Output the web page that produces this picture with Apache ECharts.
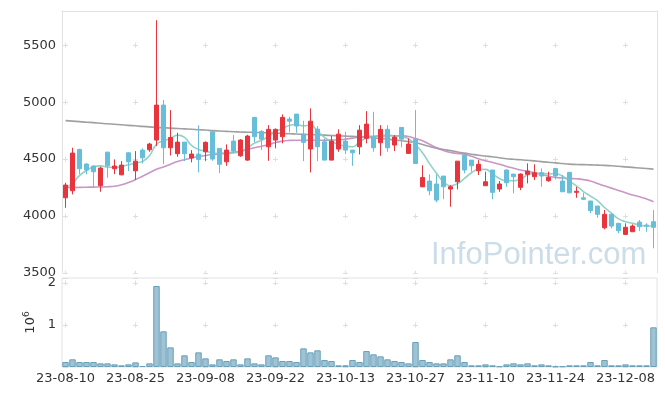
<!DOCTYPE html>
<html><head><meta charset="utf-8">
<script src="https://cdn.jsdelivr.net/npm/echarts@6/dist/echarts.min.js"></script>
<style>html,body{margin:0;padding:0;background:#fff}#c{width:665px;height:396px}</style>
</head><body><div id="c"></div>
<script>
const dates = ['23-08-10','23-08-11','23-08-14','23-08-16','23-08-17','23-08-18','23-08-21','23-08-22','23-08-23','23-08-24',
'23-08-25','23-08-28','23-08-29','23-08-30','23-08-31','23-09-01','23-09-04','23-09-05','23-09-06','23-09-07',
'23-09-08','23-09-11','23-09-12','23-09-13','23-09-14','23-09-15','23-09-18','23-09-19','23-09-20','23-09-21',
'23-09-22','23-09-25','23-09-26','23-09-27','23-10-04','23-10-05','23-10-06','23-10-10','23-10-11','23-10-12',
'23-10-13','23-10-16','23-10-17','23-10-18','23-10-19','23-10-20','23-10-23','23-10-24','23-10-25','23-10-26',
'23-10-27','23-10-30','23-10-31','23-11-01','23-11-02','23-11-03','23-11-06','23-11-07','23-11-08','23-11-09',
'23-11-10','23-11-13','23-11-14','23-11-15','23-11-16','23-11-17','23-11-20','23-11-21','23-11-22','23-11-23',
'23-11-24','23-11-27','23-11-28','23-11-29','23-11-30','23-12-01','23-12-04','23-12-05','23-12-06','23-12-07',
'23-12-08','23-12-11','23-12-12','23-12-13','23-12-14'];

const openP = [4160,4222,4585,4456,4439,4266,4561,4415,4362,4555,
4397,4579,4582,4667,4974,4599,4547,4649,4509,4544,
4564,4739,4594,4476,4658,4529,4491,4866,4743,4608,
4667,4696,4851,4895,4719,4588,4763,4652,4491,4588,
4658,4579,4608,4682,4696,4643,4761,4623,4778,4550,
4673,4257,4307,4281,4351,4237,4301,4535,4491,4397,
4266,4404,4237,4404,4368,4252,4366,4345,4380,4310,
4418,4307,4383,4208,4160,4132,4088,3897,4015,3936,
3839,3862,3947,3921,3950];
const closeP = [4272,4553,4415,4404,4389,4421,4441,4439,4447,4476,
4482,4511,4632,4974,4599,4690,4649,4547,4544,4497,
4647,4500,4454,4579,4570,4667,4702,4696,4675,4761,
4761,4866,4833,4790,4647,4833,4608,4491,4658,4719,
4579,4555,4754,4807,4599,4761,4599,4693,4675,4632,
4462,4339,4222,4140,4257,4257,4482,4404,4441,4454,
4301,4208,4281,4292,4345,4368,4395,4380,4351,4339,
4351,4213,4204,4217,4147,4047,4015,4015,3912,3871,
3901,3912,3906,3912,3901];
const lowP = [4073,4190,4366,4366,4257,4213,4336,4368,4357,4395,
4318,4462,4564,4614,4456,4532,4520,4482,4471,4383,
4485,4485,4377,4441,4550,4520,4485,4647,4579,4485,
4594,4638,4734,4731,4482,4383,4482,4491,4491,4564,
4544,4441,4541,4638,4564,4529,4564,4570,4603,4550,
4462,4252,4182,4120,4147,4082,4234,4375,4389,4360,
4266,4147,4213,4257,4199,4228,4287,4316,4257,4301,
4322,4213,4199,4160,4140,4024,3985,3883,3892,3848,
3833,3862,3868,3862,3717];
const highP = [4292,4599,4590,4465,4445,4433,4561,4497,4482,4560,
4570,4594,4643,5719,5018,4930,4731,4649,4579,4796,
4655,4743,4594,4629,4711,4675,4713,4871,4754,4798,
4769,4892,4871,4895,4836,4945,4789,4680,4704,4761,
4739,4579,4798,4921,4915,4798,4798,4711,4778,4681,
4930,4445,4366,4366,4351,4272,4482,4535,4491,4491,
4389,4404,4307,4410,4368,4375,4462,4454,4418,4389,
4418,4360,4389,4257,4204,4132,4088,4053,4024,3936,
3936,3927,3965,3936,4053];
const volume = [119000,183000,119000,119000,119000,87000,87000,63000,40000,63000,
110000,24000,87000,1930000,850000,468000,87000,278000,119000,349000,
206000,63000,183000,143000,183000,63000,206000,87000,63000,278000,
230000,143000,143000,119000,444000,349000,397000,167000,143000,40000,
40000,167000,119000,380000,302000,254000,183000,143000,119000,87000,
595000,167000,119000,87000,87000,183000,278000,119000,40000,40000,
63000,40000,16000,63000,87000,63000,87000,40000,63000,40000,
16000,16000,40000,40000,40000,119000,40000,167000,40000,40000,
63000,40000,40000,40000,945000];
const ma5 = [4240,4290,4355,4400,4432,4440,4430,4427,4435,4450,
4466,4480,4530,4630,4660,4680,4710,4690,4620,4585,
4570,4555,4550,4550,4555,4564,4600,4640,4665,4700,
4740,4770,4795,4804,4792,4798,4745,4690,4655,4630,
4614,4608,4650,4685,4696,4708,4710,4705,4698,4678,
4625,4555,4460,4375,4300,4266,4285,4330,4380,4408,
4410,4370,4330,4310,4310,4325,4360,4375,4375,4370,
4372,4350,4305,4265,4215,4175,4135,4075,4025,3975,
3950,3936,3921,3912,3912];
const ma20 = [4248,4250,4252,4253,4254,4255,4257,4262,4275,4295,
4320,4350,4380,4410,4430,4455,4478,4495,4510,4522,
4532,4540,4545,4552,4560,4570,4585,4600,4612,4628,
4645,4658,4664,4666,4666,4666,4666,4666,4667,4668,
4675,4684,4692,4697,4700,4702,4704,4705,4704,4698,
4680,4660,4630,4600,4575,4558,4550,4543,4525,4503,
4485,4470,4455,4435,4420,4405,4392,4380,4365,4350,
4339,4334,4330,4327,4320,4308,4285,4265,4245,4225,
4205,4185,4170,4150,4126];
const ma120 = [4838,4833,4829,4824,4820,4815,4810,4806,4801,4796,
4792,4787,4783,4778,4775,4772,4768,4765,4762,4758,
4755,4750,4746,4743,4740,4738,4736,4734,4732,4730,
4728,4725,4722,4720,4717,4715,4712,4710,4707,4705,
4702,4699,4696,4692,4687,4681,4675,4668,4661,4653,
4643,4628,4610,4596,4584,4574,4562,4552,4543,4534,
4527,4520,4512,4503,4498,4494,4490,4484,4478,4472,
4467,4461,4456,4453,4451,4449,4447,4445,4441,4437,
4432,4427,4422,4417,4412];
const priceTicks = {min:3500, max:5800, interval:500};
const volTicks = {min:0, max:2120000, interval:1000000};

const UP = '#e8343c', DOWN = '#66bedb';
const GRID_C = '#dedede', FRAME_C = '#e2e2e2';
const candles = dates.map((d,i)=>[openP[i], closeP[i], lowP[i], highP[i]]);

const chart = echarts.init(document.getElementById('c'), null, {renderer:'canvas'});
const crossH = {show:true, lineStyle:{color:GRID_C, width:1, type:[5,65], dashOffset:69}};
chart.setOption({
  animation:false,
  textStyle:{fontFamily:'DejaVu Sans'},
  grid:[
    {left:62, right:8, top:11, height:262, show:false},
    {left:62, right:8, top:278, height:89, show:true, borderColor:FRAME_C, borderWidth:1, backgroundColor:'transparent'}
  ],
  graphic:[{type:'text', x:431, y:255, z:0, silent:true,
    style:{text:'InfoPointer.com', font:'31px "Liberation Sans"', fill:'rgba(150,188,210,0.5)', verticalAlign:'middle'}}],
  xAxis:[
    {type:'category', gridIndex:0, data:dates, position:'top', boundaryGap:true,
     axisLine:{show:true, lineStyle:{color:FRAME_C}}, axisTick:{show:false}, axisLabel:{show:false},
     splitLine:{show:true, interval:9, alignWithLabel:true, lineStyle:{color:GRID_C, width:1, type:[5,52], dashOffset:25.3}}},
    {type:'category', gridIndex:1, data:dates, boundaryGap:true,
     axisLine:{show:false}, axisTick:{show:false},
     axisLabel:{interval:9, color:'#333', fontSize:13, margin:5},
     splitLine:{show:true, interval:9, alignWithLabel:true, lineStyle:{color:GRID_C, width:1, type:[5,37], dashOffset:39.5}}}
  ],
  yAxis:[
    {type:'value', gridIndex:0, min:priceTicks.min, max:priceTicks.max, interval:priceTicks.interval,
     axisLine:{show:true, lineStyle:{color:FRAME_C}}, axisTick:{show:false},
     axisLabel:{color:'#333', fontSize:13, margin:6, showMaxLabel:false, formatter:v=>String(v)},
     splitLine:crossH},
    {type:'value', gridIndex:0, position:'right', min:priceTicks.min, max:priceTicks.max,
     axisLine:{show:true, lineStyle:{color:FRAME_C}}, axisTick:{show:false}, axisLabel:{show:false}, splitLine:{show:false}},
    {type:'value', gridIndex:1, min:volTicks.min, max:volTicks.max, interval:volTicks.interval,
     axisLine:{show:false}, axisTick:{show:false},
     axisLabel:{color:'#333', fontSize:13, margin:6, showMaxLabel:false, formatter:v=>v===0?'':String(v/1e6)},
     splitLine:crossH,
     name:'{a|10}{b|6}', nameLocation:'middle', nameRotate:90, nameGap:22,
     nameTextStyle:{color:'#333', rich:{a:{fontSize:13, color:'#333'}, b:{fontSize:9, color:'#333', padding:[0,0,8,0]}}}}
  ],
  series:[
    {type:'line', xAxisIndex:0, yAxisIndex:0, data:ma120, smooth:true, symbol:'none', z:2,
     lineStyle:{color:'#8f8f8f', width:1.6, opacity:0.85}},
    {type:'line', xAxisIndex:0, yAxisIndex:0, data:ma20, smooth:true, symbol:'none', z:2,
     lineStyle:{color:'#c48ac1', width:1.6, opacity:0.9}},
    {type:'line', xAxisIndex:0, yAxisIndex:0, data:ma5, smooth:true, symbol:'none', z:2,
     lineStyle:{color:'#86cdbf', width:1.6, opacity:0.9}},
    {type:'candlestick', xAxisIndex:0, yAxisIndex:0, data:candles, barWidth:4, z:3,
     itemStyle:{color:UP, color0:DOWN, borderColor:UP, borderColor0:DOWN, borderWidth:1}},
    {type:'bar', xAxisIndex:1, yAxisIndex:2, data:volume, barCategoryGap:'8%',
     itemStyle:{color:'#9dc3d5', borderColor:'#6a9fb8', borderWidth:1}}
  ]
});
</script></body></html>
